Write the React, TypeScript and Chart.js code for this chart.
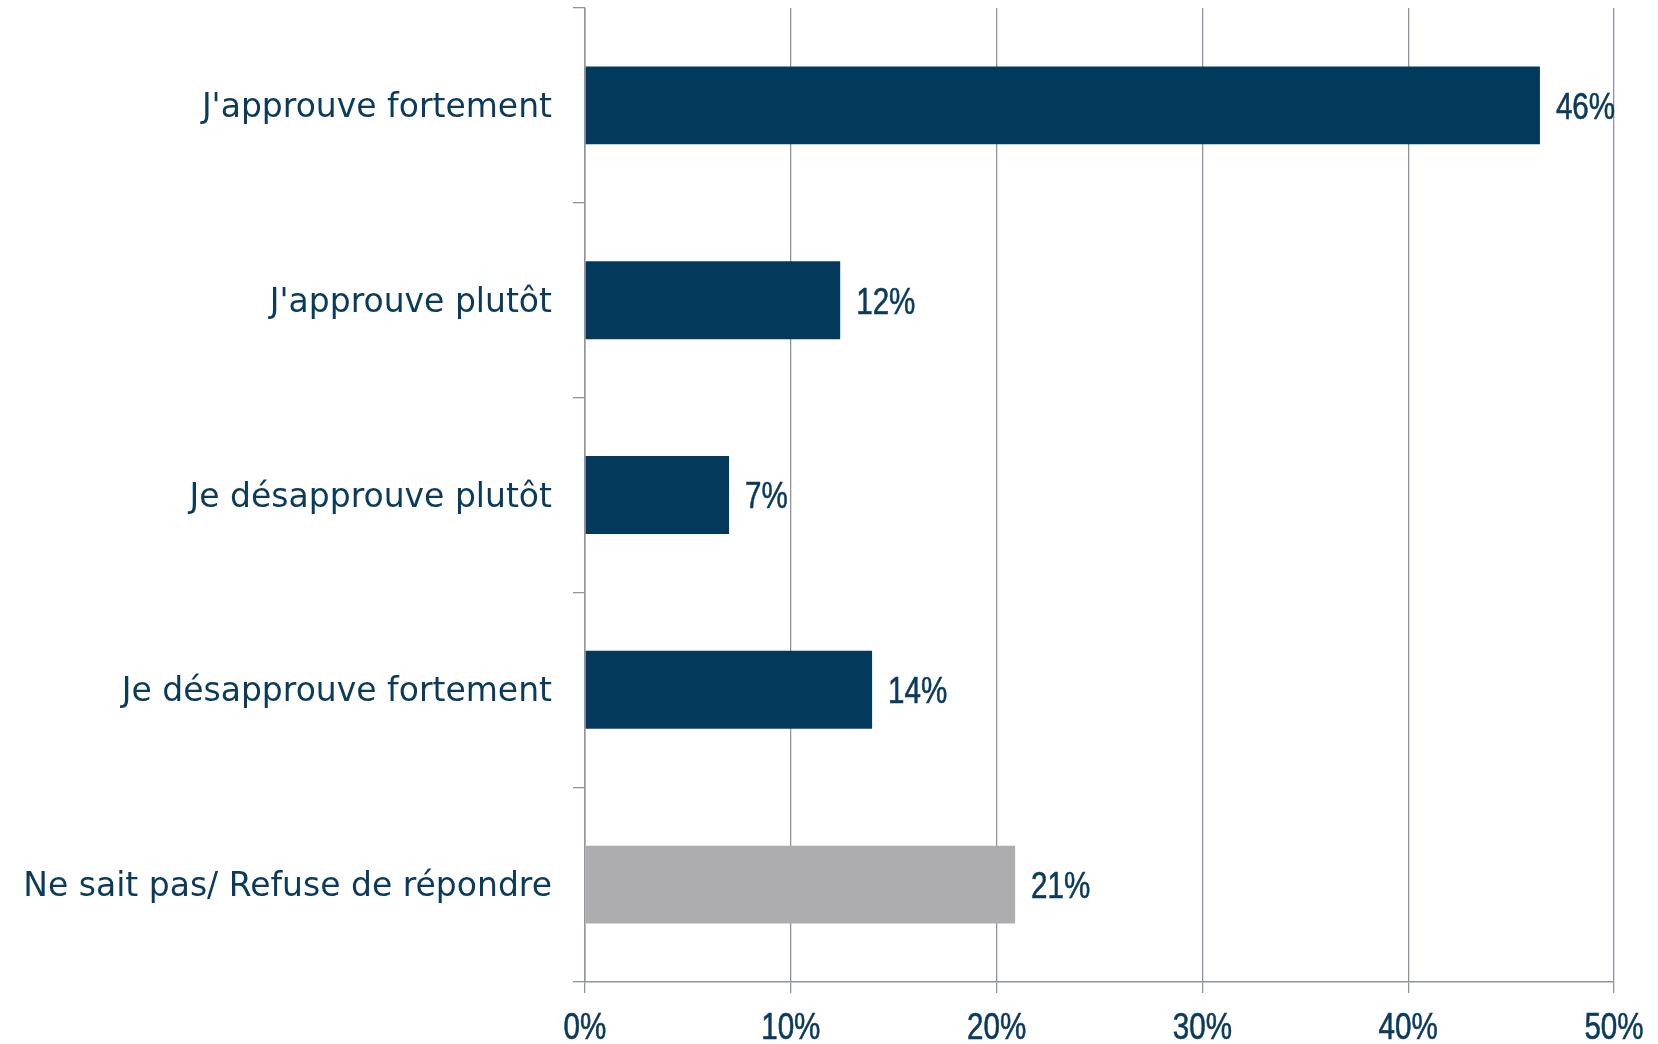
import React, { useEffect, useRef } from "react";
import { Chart, registerables } from "chart.js";

Chart.register(...registerables);

const categories = [
  "J'approuve fortement",
  "J'approuve plutôt",
  "Je désapprouve plutôt",
  "Je désapprouve fortement",
  "Ne sait pas/ Refuse de répondre",
];
const values = [46.4, 12.4, 7.0, 13.95, 20.9];
const valueLabels = ["46%", "12%", "7%", "14%", "21%"];
const barColors = ["#033a5b", "#033a5b", "#033a5b", "#033a5b", "#adadaf"];
const xTicks = [0, 10, 20, 30, 40, 50];
const xTickLabels = ["0%", "10%", "20%", "30%", "40%", "50%"];

const TEXT = "#0b3b5c";
const GRID = "#8e949d";
const NUM_FONT = "'Liberation Sans', sans-serif";
const CAT_FONT = "'DejaVu Sans', sans-serif";
const NUM_SIZE = 37;
const SQUEEZE = 0.8;

function drawNum(ctx: CanvasRenderingContext2D, text: string, x: number, baseline: number, align: "left" | "center") {
  ctx.save();
  ctx.translate(x, baseline);
  ctx.scale(SQUEEZE, 1);
  ctx.textAlign = align;
  ctx.textBaseline = "alphabetic";
  ctx.fillText(text, 0, 0);
  ctx.strokeText(text, 0, 0);
  ctx.restore();
}

const textPlugin = {
  id: "numText",
  afterDraw(chart: any) {
    const ctx = chart.ctx;
    ctx.save();
    ctx.fillStyle = TEXT;
    ctx.strokeStyle = TEXT;
    ctx.lineWidth = 0.6;
    ctx.font = `${NUM_SIZE}px ${NUM_FONT}`;
    const meta = chart.getDatasetMeta(0);
    meta.data.forEach((bar: any, i: number) => {
      drawNum(ctx, valueLabels[i], bar.x + 16, bar.y + 13.3, "left");
    });
    const xs = chart.scales.x;
    xTicks.forEach((v, i) => {
      drawNum(ctx, xTickLabels[i], xs.getPixelForValue(v), 1039, "center");
    });
    ctx.restore();
  },
};

function zeroPad(scale: any) {
  scale.paddingTop = 0;
  scale.paddingBottom = 0;
  scale.paddingLeft = 0;
  scale.paddingRight = 0;
}

export default function App() {
  const ref = useRef<HTMLCanvasElement | null>(null);
  useEffect(() => {
    document.body.style.margin = "0";
    const c = new Chart(ref.current!, {
      type: "bar",
      data: {
        labels: categories,
        datasets: [
          {
            data: values,
            backgroundColor: barColors,
            borderWidth: 0,
            categoryPercentage: 1,
            barPercentage: 0.4,
          },
        ],
      },
      options: {
        indexAxis: "y",
        animation: false,
        responsive: false,
        devicePixelRatio: 1,
        layout: { autoPadding: false, padding: { top: 8, right: 44, left: 0, bottom: 0 } },
        plugins: {
          legend: { display: false },
          title: { display: false },
          tooltip: { enabled: false },
        },
        scales: {
          x: {
            min: 0,
            max: 50,
            afterBuildTicks(scale: any) {
              scale.ticks = xTicks.map((v) => ({ value: v }));
            },
            afterFit(scale: any) {
              scale.height = 62;
              zeroPad(scale);
            },
            grid: {
              color: GRID,
              lineWidth: 1.3,
              tickLength: 11,
              drawTicks: true,
            },
            border: { color: GRID, width: 1.5 },
            ticks: { display: false },
          },
          y: {
            afterFit(scale: any) {
              scale.width = 585;
              zeroPad(scale);
            },
            grid: {
              drawOnChartArea: false,
              drawTicks: true,
              tickLength: 12,
              color: GRID,
              lineWidth: 1.3,
            },
            border: { color: GRID, width: 1.5 },
            ticks: {
              color: TEXT,
              padding: 21,
              labelOffset: 3,
              font: { family: CAT_FONT, size: 33 },
            },
          },
        },
      },
      plugins: [textPlugin],
    });
    return () => c.destroy();
  }, []);
  return <canvas ref={ref} width={1658} height={1044} style={{ display: "block" }} />;
}
